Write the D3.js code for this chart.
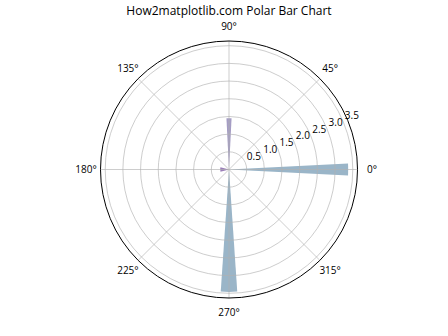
<!DOCTYPE html>
<html>
<head>
<meta charset="utf-8">
<script src="https://cdn.jsdelivr.net/npm/d3@7"></script>
<style>
  body { margin: 0; background: #fff; }
  text { font-family: "Open Sans", "DejaVu Sans", sans-serif; fill: #000; }
</style>
</head>
<body>
<div id="chart-area"></div>
<script>
// bar data (theta in degrees, width in radians)
var angles = [0, 90, 180, 270];
var radii = [3.37, 1.45, 0.25, 3.46];
var widths = [0.1, 0.1, 0.5, 0.135];
var colors = ["#9ab5c8", "#a59dc4", "#9b7fb8", "#9ab5c8"];

var rTicks = [0.5, 1.0, 1.5, 2.0, 2.5, 3.0, 3.5];
var thetaTicks = [0, 45, 90, 135, 180, 225, 270, 315];

var width = 448, height = 336;
var cx = 229, cy = 169.5, R = 128.5;
var rMax = d3.max(radii) * 1.05;

var r = d3.scaleLinear()
	.domain([0, rMax])
	.range([0, R]);

var svg = d3.select("#chart-area").append("svg")
	.attr("width", width)
	.attr("height", height);

svg.append("text")
	.attr("x", cx)
	.attr("y", 15)
	.attr("font-size", "12px")
	.attr("text-anchor", "middle")
	.text("How2matplotlib.com Polar Bar Chart");

var g = svg.append("g")
	.attr("transform", "translate(" + cx + "," + cy + ")");

// bars (grid is drawn over them, like matplotlib)
var arc = d3.arc().innerRadius(0);

g.selectAll(".bar")
	.data(angles)
	.enter().append("path")
		.attr("class", "bar")
		.attr("d", function(d, i){
			var t = Math.PI / 2 - d * Math.PI / 180;
			return arc({
				outerRadius: r(radii[i]),
				startAngle: t - widths[i] / 2,
				endAngle: t + widths[i] / 2
			});
		})
		.attr("fill", function(d, i){ return colors[i]; });

// grid rings
g.selectAll(".ring")
	.data(rTicks)
	.enter().append("circle")
		.attr("class", "ring")
		.attr("r", function(d){ return r(d); })
		.attr("fill", "none")
		.attr("stroke", "#b0b0b0")
		.attr("stroke-opacity", 0.8)
		.attr("stroke-width", 0.8);

// spokes
g.selectAll(".spoke")
	.data(thetaTicks)
	.enter().append("line")
		.attr("class", "spoke")
		.attr("x1", 0).attr("y1", 0)
		.attr("x2", function(d){ return R * Math.cos(d * Math.PI / 180); })
		.attr("y2", function(d){ return -R * Math.sin(d * Math.PI / 180); })
		.attr("stroke", "#b0b0b0")
		.attr("stroke-opacity", 0.8)
		.attr("stroke-width", 0.8);

// outer frame
g.append("circle")
	.attr("r", R)
	.attr("fill", "none")
	.attr("stroke", "#000")
	.attr("stroke-width", 1);

// angle labels
g.selectAll(".tlabel")
	.data(thetaTicks)
	.enter().append("text")
		.attr("class", "tlabel")
		.attr("x", function(d){ return (R + 14.5) * Math.cos(d * Math.PI / 180); })
		.attr("y", function(d){ return -(R + 14.5) * Math.sin(d * Math.PI / 180); })
		.attr("dy", "0.35em")
		.attr("font-size", "10px")
		.attr("text-anchor", "middle")
		.text(function(d){ return d + "\u00b0"; });

// radial labels at 22.5 deg
var a = 22.5 * Math.PI / 180;
g.selectAll(".rlabel")
	.data(rTicks)
	.enter().append("text")
		.attr("class", "rlabel")
		.attr("x", function(d){ return r(d) * Math.cos(a) + 1.5; })
		.attr("y", function(d){ return -r(d) * Math.sin(a) - 3; })
		.attr("font-size", "10px")
		.attr("text-anchor", "start")
		.text(function(d){ return d.toFixed(1); });
</script>
</body>
</html>
